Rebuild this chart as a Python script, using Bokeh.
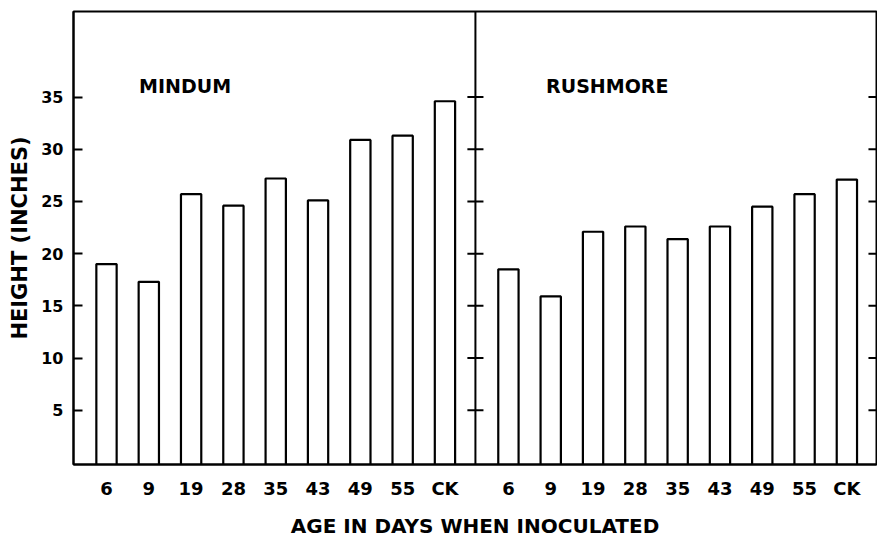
from bokeh.plotting import figure
from bokeh.models import ColumnDataSource, FixedTicker, Label, Range1d, Span
from bokeh.embed import file_html
from bokeh.resources import INLINE

# ---- data ----
days = ["6", "9", "19", "28", "35", "43", "49", "55", "CK"]
mindum = [19.0, 17.3, 25.7, 24.6, 27.2, 25.1, 30.9, 31.3, 34.6]
rushmore = [18.5, 15.9, 22.1, 22.6, 21.4, 22.6, 24.5, 25.7, 27.1]
yticks = [5, 10, 15, 20, 25, 30, 35]
panel_names = ["MINDUM", "RUSHMORE"]

# layout of the two panels along one numeric x axis
panel_offset = 9.5
divider = 8.72
x_left = [i for i in range(len(days))]
x_right = [i + panel_offset for i in range(len(days))]

X0, X1 = -0.78, 18.2
Y0, Y1 = -0.2, 43.2

FONT = "DejaVu Sans"

p = figure(width=877, height=540, output_backend="svg", toolbar_location=None,
           x_range=Range1d(X0, X1), y_range=Range1d(Y0, Y1),
           min_border_left=73, min_border_right=1, min_border_top=11, min_border_bottom=75)
p.background_fill_color = "white"
p.border_fill_color = "white"
p.grid.visible = False
p.outline_line_color = "black"
p.outline_line_width = 2

src_l = ColumnDataSource(dict(x=x_left, top=mindum))
src_r = ColumnDataSource(dict(x=x_right, top=rushmore))
for s in (src_l, src_r):
    p.vbar(x="x", top="top", bottom=Y0, width=0.48, source=s,
           fill_color="white", line_color="black", line_width=2.2)

# divider between panels with ticks crossing it
p.add_layout(Span(location=divider, dimension="height", line_color="black", line_width=2))
n = len(yticks)
p.segment(x0=[divider - 0.19] * n, x1=[divider + 0.19] * n,
          y0=yticks, y1=yticks, line_color="black", line_width=2)
# inward ticks on the right edge
p.segment(x0=[X1 - 0.19] * n, x1=[X1] * n, y0=yticks, y1=yticks,
          line_color="black", line_width=2)

# x axis
xa = p.xaxis[0]
xa.ticker = FixedTicker(ticks=x_left + x_right)
xa.major_label_overrides = {v: d for v, d in zip(x_left + x_right, days * 2)}
xa.major_tick_line_color = None
xa.major_tick_out = 0
xa.major_tick_in = 0
xa.minor_tick_line_color = None
xa.axis_line_width = 2
xa.major_label_standoff = 13
xa.major_label_text_font = FONT
xa.major_label_text_font_style = "bold"
xa.major_label_text_font_size = "18px"
xa.major_label_text_color = "black"
xa.axis_label = "AGE IN DAYS WHEN INOCULATED"
xa.axis_label_text_font = FONT
xa.axis_label_text_font_style = "bold"
xa.axis_label_text_font_size = "20px"
xa.axis_label_text_color = "black"
xa.axis_label_standoff = 12

# y axis
ya = p.yaxis[0]
ya.ticker = FixedTicker(ticks=yticks)
ya.major_tick_in = 9
ya.major_tick_out = 0
ya.major_tick_line_width = 2
ya.minor_tick_line_color = None
ya.axis_line_width = 2
ya.major_label_standoff = 10
ya.major_label_text_font = FONT
ya.major_label_text_font_style = "bold"
ya.major_label_text_font_size = "16px"
ya.major_label_text_color = "black"
ya.axis_label = "HEIGHT (INCHES)"
ya.axis_label_text_font = FONT
ya.axis_label_text_font_style = "bold"
ya.axis_label_text_font_size = "21px"
ya.axis_label_text_color = "black"
ya.axis_label_standoff = 6

# panel titles
for name, x0 in zip(panel_names, [x_left[0] + 0.77, x_right[0] + 0.89]):
    p.add_layout(Label(x=x0, y=36.05, text=name, text_font=FONT, text_font_style="bold",
                       text_font_size="19px", text_color="black", text_baseline="middle"))

open("out.html", "w").write(file_html(p, INLINE))
